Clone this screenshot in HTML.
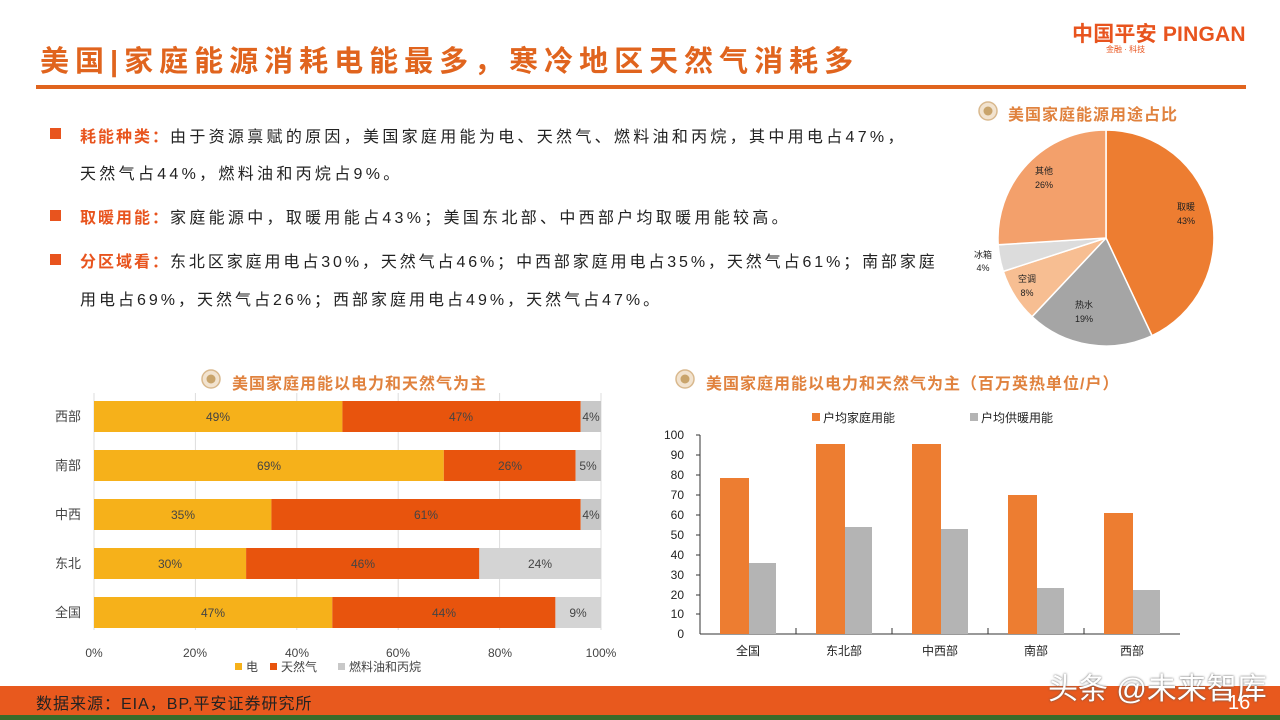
<!DOCTYPE html>
<html><head><meta charset="utf-8"><style>
body{margin:0;width:1280px;height:720px;overflow:hidden;background:#fff;font-family:"Liberation Sans","Noto Sans CJK SC",sans-serif;position:relative}
.a{position:absolute;white-space:nowrap}
.t{font-size:16px;color:#222;letter-spacing:3.3px}
.k{color:#E8541E;font-weight:bold}
.sq{position:absolute;width:11px;height:11px;background:#E8541E}
</style></head><body>
<div class="a" style="left:40px;top:38px;font-size:29px;font-weight:bold;color:#E0641E;letter-spacing:6px">美国|家庭能源消耗电能最多，寒冷地区天然气消耗多</div>
<div class="a" style="left:1072px;top:18px;font-size:21px;font-weight:bold;color:#E8541E;letter-spacing:0.2px">中国平安 PINGAN</div>
<div class="a" style="left:1106px;top:44px;font-size:8px;color:#E8541E">金融 · 科技</div>
<div style="position:absolute;left:36px;top:85px;width:1210px;height:4px;background:#E0641E"></div>

<div class="sq" style="left:50px;top:128px"></div>
<div class="a t" style="left:80px;top:123px"><span class="k" style="letter-spacing:2px">耗能种类：</span>由于资源禀赋的原因，美国家庭用能为电、天然气、燃料油和丙烷，其中用电占47%，</div>
<div class="a t" style="left:80px;top:160px">天然气占44%，燃料油和丙烷占9%。</div>
<div class="sq" style="left:50px;top:210px"></div>
<div class="a t" style="left:80px;top:204px"><span class="k" style="letter-spacing:2px">取暖用能：</span>家庭能源中，取暖用能占43%；美国东北部、中西部户均取暖用能较高。</div>
<div class="sq" style="left:50px;top:254px"></div>
<div class="a t" style="left:80px;top:248px;letter-spacing:2.9px"><span class="k" style="letter-spacing:2px">分区域看：</span>东北区家庭用电占30%，天然气占46%；中西部家庭用电占35%，天然气占61%；南部家庭</div>
<div class="a t" style="left:80px;top:286px;letter-spacing:3px">用电占69%，天然气占26%；西部家庭用电占49%，天然气占47%。</div>

<div class="a" style="left:1008px;top:101px;font-size:16px;font-weight:bold;color:#E0823E;letter-spacing:1px">美国家庭能源用途占比</div>
<div class="a" style="left:232px;top:370px;font-size:16px;font-weight:bold;color:#E0823E;letter-spacing:1px">美国家庭用能以电力和天然气为主</div>
<div class="a" style="left:706px;top:370px;font-size:16px;font-weight:bold;color:#E0823E;letter-spacing:1px">美国家庭用能以电力和天然气为主（百万英热单位/户）</div>

<svg width="1280" height="720" style="position:absolute;left:0;top:0" font-family="Liberation Sans,Noto Sans CJK SC,sans-serif">
<g fill="#f2e3cf" stroke="#d9b98e" stroke-width="1.5"><circle cx="988" cy="111" r="9"/><circle cx="211" cy="379" r="9"/><circle cx="685" cy="379" r="9"/></g>
<g fill="#c9a46b"><circle cx="988" cy="111" r="4.5"/><circle cx="211" cy="379" r="4.5"/><circle cx="685" cy="379" r="4.5"/></g>
<g stroke="#fff" stroke-width="1.5">
<path d="M1106,238 L1106,130 A108,108 0 0 1 1152,335.7Z" fill="#ED7D31"/>
<path d="M1106,238 L1152,335.7 A108,108 0 0 1 1032,316.7Z" fill="#A5A5A5"/>
<path d="M1106,238 L1032,316.7 A108,108 0 0 1 1003.3,271.4Z" fill="#F7BE92"/>
<path d="M1106,238 L1003.3,271.4 A108,108 0 0 1 998.2,244.8Z" fill="#DCDCDC"/>
<path d="M1106,238 L998.2,244.8 A108,108 0 0 1 1106,130Z" fill="#F3A06B"/>
</g>
<g font-size="9" fill="#222" text-anchor="middle">
<text x="1186" y="210">取暖</text><text x="1186" y="224">43%</text>
<text x="1084" y="308">热水</text><text x="1084" y="322">19%</text>
<text x="1027" y="282">空调</text><text x="1027" y="296">8%</text>
<text x="983" y="258">冰箱</text><text x="983" y="271">4%</text>
<text x="1044" y="174">其他</text><text x="1044" y="188">26%</text>
</g>
<g stroke="#ddd" stroke-width="1"><line x1="94" y1="393" x2="94" y2="630"/><line x1="195.4" y1="393" x2="195.4" y2="630"/><line x1="296.8" y1="393" x2="296.8" y2="630"/><line x1="398.2" y1="393" x2="398.2" y2="630"/><line x1="499.6" y1="393" x2="499.6" y2="630"/><line x1="601" y1="393" x2="601" y2="630"/></g>
<g>
<rect x="94" y="401" width="248.4" height="31" fill="#F6B11A"/><rect x="342.4" y="401" width="238.3" height="31" fill="#E8540D"/><rect x="580.7" y="401" width="20.3" height="31" fill="#C8C8C8"/>
<rect x="94" y="450" width="349.8" height="31" fill="#F6B11A"/><rect x="443.8" y="450" width="131.8" height="31" fill="#E8540D"/><rect x="575.6" y="450" width="25.4" height="31" fill="#C8C8C8"/>
<rect x="94" y="499" width="177.4" height="31" fill="#F6B11A"/><rect x="271.4" y="499" width="309.3" height="31" fill="#E8540D"/><rect x="580.7" y="499" width="20.3" height="31" fill="#C8C8C8"/>
<rect x="94" y="548" width="152.1" height="31" fill="#F6B11A"/><rect x="246.1" y="548" width="233.2" height="31" fill="#E8540D"/><rect x="479.3" y="548" width="121.7" height="31" fill="#D4D4D4"/>
<rect x="94" y="597" width="238.3" height="31" fill="#F6B11A"/><rect x="332.3" y="597" width="223.1" height="31" fill="#E8540D"/><rect x="555.4" y="597" width="45.6" height="31" fill="#D4D4D4"/>
</g>
<g font-size="12" fill="#444" text-anchor="middle">
<text x="218" y="421">49%</text><text x="461" y="421">47%</text><text x="591" y="421">4%</text>
<text x="269" y="470">69%</text><text x="510" y="470">26%</text><text x="588" y="470">5%</text>
<text x="183" y="519">35%</text><text x="426" y="519">61%</text><text x="591" y="519">4%</text>
<text x="170" y="568">30%</text><text x="363" y="568">46%</text><text x="540" y="568">24%</text>
<text x="213" y="617">47%</text><text x="444" y="617">44%</text><text x="578" y="617">9%</text>
</g>
<g font-size="13" fill="#444" text-anchor="end">
<text x="81" y="421">西部</text><text x="81" y="470">南部</text><text x="81" y="519">中西</text><text x="81" y="568">东北</text><text x="81" y="617">全国</text>
</g>
<g font-size="12" fill="#444" text-anchor="middle">
<text x="94" y="657">0%</text><text x="195" y="657">20%</text><text x="297" y="657">40%</text><text x="398" y="657">60%</text><text x="500" y="657">80%</text><text x="601" y="657">100%</text>
</g>
<rect x="235" y="663" width="7" height="7" fill="#F6B11A"/><text x="246" y="671" font-size="12" fill="#444">电</text>
<rect x="270" y="663" width="7" height="7" fill="#E8540D"/><text x="281" y="671" font-size="12" fill="#444">天然气</text>
<rect x="338" y="663" width="7" height="7" fill="#C8C8C8"/><text x="349" y="671" font-size="12" fill="#444">燃料油和丙烷</text>
<line x1="700" y1="435" x2="700" y2="634" stroke="#333"/>
<line x1="700" y1="634" x2="1180" y2="634" stroke="#333"/>
<g stroke="#333"><line x1="696" y1="435" x2="700" y2="435"/><line x1="696" y1="455" x2="700" y2="455"/><line x1="696" y1="475" x2="700" y2="475"/><line x1="696" y1="495" x2="700" y2="495"/><line x1="696" y1="515" x2="700" y2="515"/><line x1="696" y1="535" x2="700" y2="535"/><line x1="696" y1="555" x2="700" y2="555"/><line x1="696" y1="575" x2="700" y2="575"/><line x1="696" y1="595" x2="700" y2="595"/><line x1="696" y1="614" x2="700" y2="614"/><line x1="796" y1="628" x2="796" y2="634"/><line x1="892" y1="628" x2="892" y2="634"/><line x1="988" y1="628" x2="988" y2="634"/><line x1="1084" y1="628" x2="1084" y2="634"/></g>
<g font-size="12" fill="#222" text-anchor="end">
<text x="684" y="439">100</text><text x="684" y="459">90</text><text x="684" y="479">80</text><text x="684" y="499">70</text><text x="684" y="519">60</text><text x="684" y="539">50</text><text x="684" y="559">40</text><text x="684" y="579">30</text><text x="684" y="599">20</text><text x="684" y="618">10</text><text x="684" y="638">0</text>
</g>
<g fill="#ED7D31">
<rect x="720" y="478" width="29" height="156"/><rect x="816" y="444" width="29" height="190"/><rect x="912" y="444" width="29" height="190"/><rect x="1008" y="495" width="29" height="139"/><rect x="1104" y="513" width="29" height="121"/>
</g>
<g fill="#B4B4B4">
<rect x="749" y="563" width="27" height="71"/><rect x="845" y="527" width="27" height="107"/><rect x="941" y="529" width="27" height="105"/><rect x="1037" y="588" width="27" height="46"/><rect x="1133" y="590" width="27" height="44"/>
</g>
<g font-size="12" fill="#222" text-anchor="middle">
<text x="748" y="655">全国</text><text x="844" y="655">东北部</text><text x="940" y="655">中西部</text><text x="1036" y="655">南部</text><text x="1132" y="655">西部</text>
</g>
<rect x="812" y="413" width="8" height="8" fill="#ED7D31"/><text x="823" y="422" font-size="12" fill="#222">户均家庭用能</text>
<rect x="970" y="413" width="8" height="8" fill="#B4B4B4"/><text x="981" y="422" font-size="12" fill="#222">户均供暖用能</text>
</svg>

<div style="position:absolute;left:0;top:686px;width:1280px;height:29px;background:#E8591E"></div>
<div style="position:absolute;left:0;top:715px;width:1280px;height:5px;background:#3a6b2a"></div>
<div class="a" style="left:36px;top:690px;font-size:16px;color:#222;letter-spacing:1px">数据来源：EIA，BP,平安证券研究所</div>
<div class="a" style="left:1048px;top:664px;font-size:30px;color:#fff;text-shadow:0 0 2px #555">头条 @未来智库</div>
<div class="a" style="left:1228px;top:692px;font-size:20px;color:#fff">16</div>
</body></html>
